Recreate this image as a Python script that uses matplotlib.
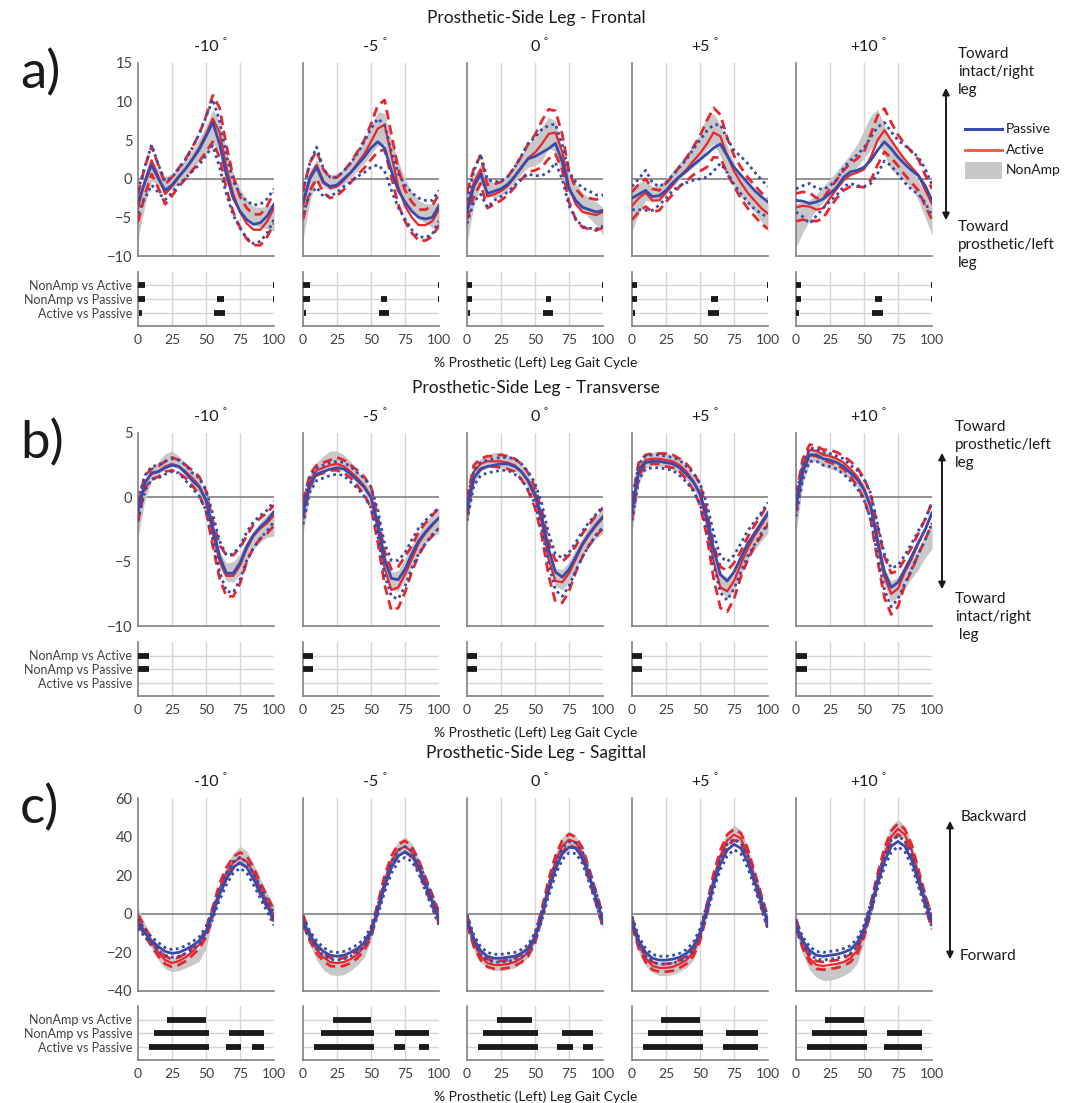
import matplotlib
matplotlib.use("Agg")
import matplotlib.pyplot as plt
import numpy as np
from matplotlib.patches import Rectangle

plt.rcParams['font.family'] = ['Lato', 'DejaVu Sans']

# ---------------- data ----------------
pct = np.arange(0, 101, 5)
conds = ['-10', '-5', '0', '+5', '+10']
comparisons = ['NonAmp vs Active', 'NonAmp vs Passive', 'Active vs Passive']

# frontal plane (deg), one list per condition
fr_passive = [
    [-3.0, -0.5, 1.8, 0.0, -1.5, -0.8, 0.3, 1.3, 2.5, 3.8, 5.5, 7.3, 4.5, 0.5, -2.5, -4.2, -5.3, -5.9, -5.7, -4.8, -3.3],
    [-3.0, 0.0, 1.5, -0.5, -1.0, -0.8, 0.0, 0.8, 1.8, 2.8, 4.0, 4.8, 4.0, 1.0, -1.5, -3.0, -4.2, -5.0, -5.2, -5.0, -3.5],
    [-4.3, -1.0, 0.6, -1.9, -1.6, -1.3, -0.7, 0.3, 1.5, 2.6, 2.9, 3.4, 3.9, 4.6, 2.2, -1.3, -2.8, -3.7, -4.0, -4.3, -4.1],
    [-2.5, -2.0, -1.5, -2.3, -2.2, -1.5, -0.5, 0.3, 1.0, 1.8, 2.5, 3.2, 4.0, 4.5, 3.0, 1.5, 0.5, -0.5, -1.5, -2.3, -3.0],
    [-2.8, -2.9, -3.2, -3.0, -2.6, -1.9, -1.1, 0.2, 0.9, 1.1, 1.5, 2.4, 3.7, 4.8, 3.9, 2.8, 1.9, 1.1, 0.4, -0.9, -2.8],
]
fr_active = [
    [-3.8, -0.3, 2.4, 0.3, -2.0, -1.0, 0.2, 1.3, 2.6, 4.0, 5.8, 7.8, 6.0, 1.5, -2.0, -4.3, -5.8, -6.6, -6.6, -5.5, -3.8],
    [-3.5, 0.3, 1.8, -0.3, -1.2, -1.0, -0.2, 0.8, 2.0, 3.2, 4.8, 6.5, 7.0, 3.0, -1.0, -3.5, -5.0, -6.0, -6.0, -5.5, -4.0],
    [-3.5, -0.5, 1.2, -2.3, -2.0, -1.6, -0.9, 0.2, 1.4, 2.7, 3.4, 4.5, 5.8, 6.0, 3.5, -1.0, -3.3, -4.3, -4.5, -4.7, -4.3],
    [-3.5, -2.5, -1.8, -2.8, -2.8, -1.8, -0.8, 0.3, 1.2, 2.3, 3.3, 4.5, 6.0, 5.5, 3.0, 1.0, -0.5, -1.8, -2.8, -3.8, -4.5],
    [-3.7, -3.5, -3.6, -4.0, -3.8, -2.5, -1.3, -0.2, 0.5, 0.8, 1.2, 2.8, 5.0, 6.3, 5.0, 3.7, 2.5, 1.5, 0.5, -1.5, -3.3],
]
fr_nonamp = [
    [-5.0, -1.5, 1.0, 0.2, -0.7, -0.3, 0.5, 1.5, 2.5, 3.7, 5.0, 6.8, 5.5, 1.5, -1.0, -2.8, -4.0, -4.8, -5.0, -5.0, -5.0],
    [-5.0, -1.0, 1.2, 0.0, -0.5, -0.3, 0.3, 1.2, 2.3, 3.5, 5.0, 6.5, 6.5, 3.0, 0.5, -1.5, -3.0, -4.0, -4.5, -4.8, -4.8],
    [-5.5, -1.5, 0.5, -1.0, -1.5, -1.2, -0.4, 0.6, 1.9, 3.0, 3.5, 4.5, 6.0, 5.5, 2.0, -0.5, -2.0, -3.0, -3.8, -4.5, -5.5],
    [-4.0, -2.5, -1.5, -2.0, -1.8, -1.0, 0.0, 1.0, 2.0, 3.0, 4.0, 6.0, 6.5, 5.0, 2.5, 0.5, -1.0, -2.0, -3.0, -4.0, -5.0],
    [-6.0, -5.0, -4.0, -3.0, -2.0, -1.0, 0.0, 1.0, 2.0, 3.0, 4.5, 6.0, 7.0, 5.0, 3.0, 2.0, 1.0, 0.0, -1.5, -3.5, -5.5],
]
fr_sd_passive = [1.5, 2.0, 2.6, 1.8, 1.2, 1.0, 1.0, 1.2, 1.5, 2.0, 2.5, 3.0, 3.0, 2.5, 2.2, 2.2, 2.4, 2.5, 2.4, 2.2, 2.0]
fr_sd_active = [1.8, 1.8, 1.8, 1.5, 1.3, 1.2, 1.2, 1.3, 1.5, 1.8, 2.3, 3.0, 3.2, 2.8, 2.3, 2.0, 2.0, 2.0, 2.0, 2.0, 2.0]
fr_sd_nonamp = [2.8, 2.0, 1.3, 1.0, 1.0, 1.0, 1.0, 1.1, 1.2, 1.5, 1.8, 2.2, 2.0, 2.0, 1.8, 1.5, 1.3, 1.2, 1.3, 1.5, 1.8]

# transverse plane
tr_passive = [
    [-1.0, 1.1, 1.9, 2.0, 2.3, 2.5, 2.4, 1.9, 1.3, 0.8, -0.2, -2.3, -4.6, -5.9, -5.9, -5.1, -3.8, -2.9, -2.3, -1.8, -1.1],
    [-1.3, 1.0, 1.8, 2.0, 2.2, 2.3, 2.2, 1.8, 1.3, 0.8, 0.0, -2.0, -4.8, -6.3, -6.4, -5.6, -4.4, -3.4, -2.7, -2.1, -1.6],
    [-1.0, 1.5, 2.2, 2.4, 2.5, 2.6, 2.6, 2.4, 2.0, 1.3, 0.3, -1.5, -4.0, -5.8, -6.2, -5.6, -4.6, -3.6, -2.8, -2.1, -1.5],
    [-1.0, 2.0, 2.7, 2.8, 2.8, 2.7, 2.6, 2.3, 1.8, 1.2, 0.3, -1.5, -4.0, -6.0, -6.5, -5.8, -4.7, -3.6, -2.8, -2.0, -1.2],
    [-0.7, 2.0, 3.3, 3.3, 3.0, 2.9, 2.7, 2.4, 1.9, 1.4, 0.6, -0.7, -3.3, -5.8, -7.0, -6.6, -5.6, -4.6, -3.5, -2.5, -1.2],
]
tr_active = [
    [-1.2, 1.2, 1.8, 2.0, 2.4, 2.6, 2.4, 2.0, 1.5, 0.9, -0.3, -2.8, -5.0, -6.1, -6.1, -5.3, -4.0, -3.0, -2.4, -2.0, -1.4],
    [-1.0, 1.3, 2.1, 2.3, 2.5, 2.6, 2.4, 2.0, 1.5, 0.9, 0.0, -2.5, -5.5, -7.2, -7.0, -6.0, -4.8, -3.6, -2.8, -2.2, -1.6],
    [-0.8, 2.0, 2.6, 2.8, 2.8, 2.8, 2.7, 2.5, 2.0, 1.2, 0.0, -2.0, -4.8, -6.5, -6.6, -5.9, -4.8, -3.7, -2.9, -2.2, -1.6],
    [-1.0, 2.2, 2.9, 3.0, 3.0, 2.9, 2.8, 2.5, 2.0, 1.3, 0.2, -2.0, -5.0, -7.0, -7.3, -6.5, -5.2, -4.0, -3.0, -2.2, -1.3],
    [-0.5, 2.5, 3.7, 3.6, 3.3, 3.2, 3.0, 2.7, 2.2, 1.6, 0.7, -0.8, -3.6, -6.2, -7.5, -7.1, -5.8, -4.8, -3.6, -2.5, -1.2],
]
tr_nonamp = [
    [-1.8, 0.5, 1.8, 2.3, 2.8, 3.0, 2.7, 2.2, 1.5, 0.8, -0.3, -2.5, -4.8, -5.8, -5.8, -5.2, -4.2, -3.3, -2.7, -2.2, -2.0],
    [-1.5, 1.0, 2.2, 2.7, 3.0, 3.0, 2.8, 2.3, 1.6, 0.9, 0.0, -2.3, -5.0, -6.5, -6.5, -5.6, -4.5, -3.5, -2.8, -2.2, -1.8],
    [-1.2, 1.8, 2.5, 2.8, 2.9, 2.9, 2.8, 2.6, 2.1, 1.3, 0.2, -1.8, -4.5, -6.2, -6.4, -5.8, -4.8, -3.8, -3.0, -2.3, -1.8],
    [-1.5, 1.8, 2.8, 3.0, 3.0, 2.9, 2.7, 2.4, 1.9, 1.2, 0.2, -1.8, -4.6, -6.6, -7.0, -6.4, -5.3, -4.2, -3.3, -2.5, -1.8],
    [-1.5, 1.8, 3.2, 3.3, 3.0, 2.8, 2.6, 2.3, 1.8, 1.3, 0.5, -1.0, -3.8, -6.2, -7.3, -7.0, -6.3, -5.6, -4.8, -3.8, -3.0],
]
tr_sd_passive = [0.8, 0.6, 0.5, 0.5, 0.5, 0.5, 0.5, 0.6, 0.6, 0.7, 0.8, 1.0, 1.2, 1.4, 1.5, 1.3, 1.1, 1.0, 0.9, 0.8, 0.8]
tr_sd_active = [0.7, 0.5, 0.4, 0.4, 0.4, 0.5, 0.5, 0.5, 0.6, 0.7, 0.8, 1.0, 1.3, 1.6, 1.6, 1.4, 1.0, 0.9, 0.8, 0.8, 0.8]
tr_sd_nonamp = [1.3, 0.8, 0.5, 0.5, 0.6, 0.6, 0.5, 0.5, 0.5, 0.5, 0.5, 0.5, 0.6, 0.7, 0.8, 0.8, 0.8, 0.7, 0.8, 0.9, 1.0]

# sagittal plane
sg_passive = [
    [-5, -10, -14, -17, -19.5, -20.5, -20, -18.5, -16.5, -14, -9, 0, 10, 18, 24, 26.5, 24, 18, 11, 4, -3],
    [-4, -11, -16, -19.5, -21.5, -22, -21.5, -20, -18, -15, -9, 2, 14, 24, 30, 32, 30, 24, 15, 6, -3],
    [-3, -13, -19, -22, -23, -23, -22.5, -22, -20.5, -18, -12, -1, 12, 23, 31, 34.5, 34, 29, 19, 8, -4],
    [-4, -14, -20, -23, -24, -24, -23.5, -22.5, -20.5, -17, -10, 2, 15, 26, 33, 36, 34, 27, 17, 6, -5],
    [-6, -14, -19, -21.5, -22, -21.5, -21, -20, -18.5, -15, -8, 3, 16, 27, 35, 37.5, 35, 28, 17, 6, -4],
]
sg_active = [
    [-3, -9, -15, -20, -24, -25.5, -24.5, -22.5, -19.5, -16, -10, 1, 13, 21, 26.5, 29, 27, 21, 13, 6, -1],
    [-3, -12, -18.5, -22.5, -25, -25.5, -25, -23.5, -21, -17, -10, 3, 17, 27, 33, 35, 32, 25, 16, 7, -2],
    [-3, -15, -22, -25.5, -26.5, -26.5, -26, -25, -23, -20, -13, 0, 15, 27, 35, 38.5, 37, 31, 20, 8, -4],
    [-4, -16, -23, -27, -28, -28, -27.5, -26, -24, -20, -12, 2, 18, 30, 38, 41, 39, 31, 19, 7, -5],
    [-5, -16, -23, -26.5, -27, -26.5, -26, -25, -23, -19, -10, 3, 18, 31, 40, 44, 41, 33, 20, 7, -5],
]
sg_nonamp = [
    [-1, -8, -15, -21, -25, -26.5, -26, -24.5, -23, -21, -15, 0, 13, 22, 28, 31, 29, 23, 15, 8, 1],
    [-2, -13, -21, -26, -28, -28.5, -28, -26, -23, -19, -11, 3, 18, 28, 34, 36, 33, 26, 17, 7, -2],
    [-4, -16, -22, -25, -26, -26, -25.5, -24.5, -22.5, -19, -12, 1, 16, 28, 36, 39, 37, 30, 19, 7, -5],
    [-5, -17, -24, -27.5, -28.5, -28.5, -28, -26.5, -24.5, -20.5, -12, 3, 19, 31, 39, 42, 40, 32, 20, 7, -5],
    [-6, -18, -26, -30, -31, -31, -30, -28.5, -26.5, -22, -12, 3, 20, 33, 42, 45, 42, 34, 21, 7, -5],
]
sg_sd_passive = [2.5, 2.0, 2.0, 2.0, 2.0, 2.0, 2.0, 2.0, 2.0, 2.0, 2.2, 2.5, 2.8, 3.0, 3.0, 2.8, 2.8, 3.0, 3.0, 3.0, 3.0]
sg_sd_active = [2.5, 2.0, 2.0, 2.0, 2.0, 2.0, 2.0, 2.0, 2.0, 2.0, 2.2, 2.5, 2.8, 3.0, 3.0, 2.8, 2.8, 3.0, 3.0, 3.0, 3.0]
sg_sd_nonamp = [4.0, 3.0, 3.0, 3.0, 3.5, 3.5, 3.5, 3.5, 3.5, 3.5, 3.0, 2.5, 2.5, 3.0, 3.5, 4.0, 3.5, 3.0, 3.0, 3.0, 3.0]

# significant regions (% gait), per condition: [NonAmp vs Active, NonAmp vs Passive, Active vs Passive]
fr_sig = [
    [[(0, 5), (99.3, 100)], [(0, 5), (58, 63), (99.3, 100)], [(1, 3), (56, 64)]],
    [[(0, 5), (99.3, 100)], [(0, 5), (57, 62), (99.3, 100)], [(1, 2.5), (56, 63)]],
    [[(0, 4), (99.3, 100)], [(0, 4), (58, 62), (99.3, 100)], [(1, 2.5), (56, 63)]],
    [[(0, 4), (99.3, 100)], [(0, 4), (58, 63), (99.3, 100)], [(0.5, 2.5), (56, 64)]],
    [[(0, 4), (99.3, 100)], [(0, 4), (58, 63), (99.3, 100)], [(0, 2), (56, 64)]],
]
tr_sig = [
    [[(0, 8)], [(0, 8)], []],
    [[(0, 7)], [(0, 7)], []],
    [[(0, 7)], [(0, 7)], []],
    [[(0, 7)], [(0, 7)], []],
    [[(0, 8)], [(0, 8)], []],
]
sg_sig = [
    [[(21, 50)], [(12, 52), (67, 93)], [(8, 52), (65, 76), (84, 93)]],
    [[(22, 50)], [(13, 52), (68, 93)], [(8, 52), (67, 75), (85, 93)]],
    [[(22, 48)], [(12, 52), (70, 93)], [(8, 52), (66, 78), (85, 93)]],
    [[(21, 50)], [(12, 52), (69, 93)], [(8, 52), (67, 93)]],
    [[(21, 50)], [(12, 52), (67, 93)], [(8, 52), (65, 93)]],
]

# ---------------- layout ----------------
W, H = 1073, 1103
fig = plt.figure(figsize=(W / 100, H / 100), dpi=100)

col_left = [138, 303, 467, 632, 796]
ax_w = 136
main_top = [63, 433, 798]
main_h = 193
sig_top = [272, 642, 1006]
sig_h = 54

c_pas = '#3a4aa8'
c_act = '#e8262d'
c_band = '#c8c8c8'
c_axis = '#808080'
c_grid = '#d6d6d6'
c_tick = '#404040'


def add_ax(l, t, w, h):
    return fig.add_axes([l / W, 1 - (t + h) / H, w / W, h / H])


def ftext(x, y, s, **kw):
    return fig.text(x / W, 1 - y / H, s, **kw)


planes = [
    ('Frontal', fr_passive, fr_active, fr_nonamp, fr_sd_passive, fr_sd_active, fr_sd_nonamp, fr_sig, (-10, 15), [-10, -5, 0, 5, 10, 15]),
    ('Transverse', tr_passive, tr_active, tr_nonamp, tr_sd_passive, tr_sd_active, tr_sd_nonamp, tr_sig, (-10, 5), [-10, -5, 0, 5]),
    ('Sagittal', sg_passive, sg_active, sg_nonamp, sg_sd_passive, sg_sd_active, sg_sd_nonamp, sg_sig, (-40, 60), [-40, -20, 0, 20, 40, 60]),
]

for r, (name, pas, act, non, sdp, sda, sdn, sig, ylim, yt) in enumerate(planes):
    ftext(536, main_top[r] - 45, 'Prosthetic-Side Leg - ' + name, ha='center', va='center',
          fontsize=12.5, color='#1a1a1a')
    ftext(536, sig_top[r] + sig_h + 37, '% Prosthetic (Left) Leg Gait Cycle', ha='center', va='center',
          fontsize=10, color='#1a1a1a')
    ftext(20, main_top[r] + 10, 'abc'[r] + ')', ha='left', va='center', fontsize=38, color='#1a1a1a')

    for c in range(5):
        ax = add_ax(col_left[c], main_top[r], ax_w, main_h)
        p = np.array(pas[c]); a = np.array(act[c]); n = np.array(non[c])
        sp = np.array(sdp); sa = np.array(sda); sn = np.array(sdn)
        for gx in [25, 50, 75]:
            ax.axvline(gx, color=c_grid, lw=1, zorder=0)
        ax.axhline(0, color=c_axis, lw=1.2, zorder=1)
        ax.fill_between(pct, n - sn, n + sn, color=c_band, lw=0, zorder=2)
        ax.plot(pct, a + sa, color=c_act, lw=2, dashes=(3.5, 2), zorder=3)
        ax.plot(pct, a - sa, color=c_act, lw=2, dashes=(3.5, 2), zorder=3)
        ax.plot(pct, a, color=c_act, lw=1.6, zorder=4)
        ax.plot(pct, p + sp, color=c_pas, lw=2, ls=(0, (1, 1.3)), zorder=5)
        ax.plot(pct, p - sp, color=c_pas, lw=2, ls=(0, (1, 1.3)), zorder=5)
        ax.plot(pct, p, color=c_pas, lw=2, zorder=6)
        ax.set_xlim(0, 100)
        ax.set_ylim(*ylim)
        ax.set_xticks([])
        ax.set_yticks(yt)
        ax.tick_params(length=0, labelsize=10.5, colors=c_tick, pad=4)
        if c > 0:
            ax.set_yticklabels([])
        for s in ['top', 'right']:
            ax.spines[s].set_visible(False)
        for s in ['left', 'bottom']:
            ax.spines[s].set_color(c_axis)
            ax.spines[s].set_linewidth(1.2)
        ax.patch.set_alpha(0)

        # condition label with degree sign
        t = ftext(col_left[c] + ax_w / 2, main_top[r] - 16, conds[c], ha='center', va='center',
                  fontsize=11.5, color='#1a1a1a')
        ax.annotate('°', xy=(1, 1), xycoords=t, xytext=(3, -1), textcoords='offset points',
                    ha='left', va='center', fontsize=7, color='#1a1a1a', annotation_clip=False)

        # significance strip
        sx = add_ax(col_left[c], sig_top[r], ax_w, sig_h)
        for gx in [25, 50, 75]:
            sx.axvline(gx, color=c_grid, lw=1, zorder=0)
        for k in range(3):
            sx.axhline(k + 1, color=c_grid, lw=1, zorder=0)
            for (s0, s1) in sig[c][k]:
                sx.hlines(k + 1, s0, s1, color='#1a1a1a', lw=4.2, capstyle='butt', zorder=3)
        sx.set_xlim(0, 100)
        sx.set_ylim(4, 0)
        sx.set_xticks([0, 25, 50, 75, 100])
        sx.set_yticks([1, 2, 3])
        if c == 0:
            sx.set_yticklabels(comparisons)
        else:
            sx.set_yticklabels([])
        sx.tick_params(length=0, labelsize=9, colors=c_tick, pad=4)
        sx.tick_params(axis='x', labelsize=10, pad=6)
        for s in ['top', 'right']:
            sx.spines[s].set_visible(False)
        for s in ['left', 'bottom']:
            sx.spines[s].set_color(c_axis)
            sx.spines[s].set_linewidth(1.2)
        sx.patch.set_alpha(0)

# ---------------- right-side annotations ----------------
arrow_kw = dict(arrowstyle='<|-|>', color='#1a1a1a', lw=1.4, mutation_scale=10)


def farrow(x, y0, y1):
    fig.patches.append(matplotlib.patches.FancyArrowPatch((x / W, 1 - y0 / H), (x / W, 1 - y1 / H),
                                                          transform=fig.transFigure, **arrow_kw))


farrow(946, 85, 223)
ftext(958, 72, 'Toward\nintact/right\nleg', ha='left', va='center', fontsize=11, linespacing=1.35, color='#1a1a1a')
ftext(958, 245, 'Toward\nprosthetic/left\nleg', ha='left', va='center', fontsize=11, linespacing=1.35, color='#1a1a1a')

# legend
fig.add_artist(plt.Line2D([965 / W, 1002 / W], [1 - 129 / H, 1 - 129 / H], color=c_pas, lw=2.2))
fig.add_artist(plt.Line2D([965 / W, 1002 / W], [1 - 150 / H, 1 - 150 / H], color='#f15a3a', lw=2))
fig.add_artist(Rectangle((965 / W, 1 - 179 / H), 37 / W, 17 / H, transform=fig.transFigure,
                         color=c_band, lw=0))
ftext(1006, 129, 'Passive', ha='left', va='center', fontsize=10, color='#1a1a1a')
ftext(1006, 150, 'Active', ha='left', va='center', fontsize=10, color='#1a1a1a')
ftext(1006, 170, 'NonAmp', ha='left', va='center', fontsize=10, color='#1a1a1a')

farrow(942, 450, 592)
ftext(955, 445, 'Toward\nprosthetic/left\nleg', ha='left', va='center', fontsize=11, linespacing=1.35, color='#1a1a1a')
ftext(955, 617, 'Toward\nintact/right\n leg', ha='left', va='center', fontsize=11, linespacing=1.35, color='#1a1a1a')

farrow(950, 818, 962)
ftext(961, 817, 'Backward', ha='left', va='center', fontsize=11, color='#1a1a1a')
ftext(960, 956, 'Forward', ha='left', va='center', fontsize=11, color='#1a1a1a')

fig.savefig('out.png', dpi=100)
